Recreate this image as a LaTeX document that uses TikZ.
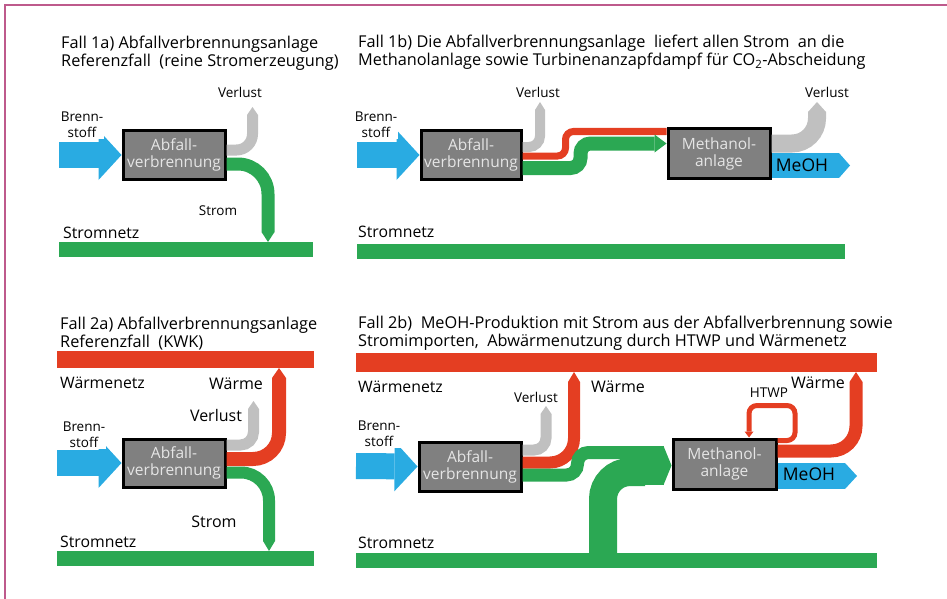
\documentclass[tikz,border=0pt]{standalone}
\usepackage{fontspec}
\setmainfont{Open Sans}
\usetikzlibrary{calc,arrows.meta,positioning}
\definecolor{fluxblue}{RGB}{41,171,226}
\definecolor{fluxgreen}{RGB}{43,168,83}
\definecolor{fluxred}{RGB}{228,62,34}
\definecolor{fluxgray}{RGB}{192,192,192}
\definecolor{plantgray}{RGB}{128,128,128}
\definecolor{framepink}{RGB}{190,90,140}
\tikzset{
  plant/.style={rectangle, draw=black, fill=plantgray, line width=3pt,
                minimum width=102pt, minimum height=49pt, inner sep=0pt,
                text=white!90!black, align=center, font=\fontsize{15.5}{17}\selectfont},
  gridbar/.style={rectangle, fill=fluxgreen, inner sep=0pt, outer sep=0pt, minimum height=15pt},
  heatbar/.style={rectangle, fill=fluxred, inner sep=0pt, outer sep=0pt, minimum height=18pt},
  ttl/.style={anchor=base west, align=left, inner sep=0pt, font=\fontsize{16.3}{18}\selectfont},
  lbl/.style={inner sep=0pt, font=\fontsize{13.5}{16}\selectfont},
  biglbl/.style={inner sep=0pt, font=\fontsize{16}{18}\selectfont},
  netlbl/.style={anchor=west, inner sep=0pt, font=\fontsize{15.8}{18}\selectfont},
  fuellbl/.style={align=center, fill=white, inner sep=1pt, font=\fontsize{13.5}{16}\selectfont},
  meohlbl/.style={inner sep=0pt, font=\fontsize{17.5}{20}\selectfont},
  flowtip/.style={-{Triangle[length=#1, width=0pt 1, line width=0pt]}},
  flowtip/.default=9pt,
  fuelin/.style={fluxblue, line width=26pt, -{Triangle[length=23pt, width=50pt, line width=0pt]}},
  lossband/.style={fluxgray, line width=11pt, rounded corners=13pt, flowtip=8pt},
  gband/.style={fluxgreen, line width=13pt, rounded corners=10pt},
  rband/.style={fluxred, line width=14pt, rounded corners=10pt},
  meohout/.style={fluxblue, line width=25pt, flowtip=11pt},
}
\begin{document}
\begin{tikzpicture}[x=1pt, y=-1pt]
  \useasboundingbox (0,0) rectangle (947,599);
  \coordinate (frameBL) at (5,599);
  \coordinate (frameTL) at (5,5.5);
  \coordinate (frameTR) at (947,5.5);
  \draw[framepink, line width=2pt] (frameBL) -- (frameTL) -- (frameTR);

  % Fall 1a
  \node[ttl] (title1a) at (61,67) {Fall 1a) Abfallverbrennungsanlage\\Referenzfall\ \ (reine Stromerzeugung)};
  \node[plant] (box1a) at (174,155) {Abfall-\\verbrennung};
  \node[gridbar, minimum width=254pt] (grid1a) at (186,249.5) {};
  \coordinate (fuel1a) at (59,155);
  \coordinate (loss1a) at (252.5,107);
  \draw[fuelin] (fuel1a) -- (box1a.west);
  \draw[lossband, rounded corners=16pt] ($(box1a.east)+(0,-5)$) -| (loss1a);
  \draw[gband, rounded corners=30pt, flowtip=10pt] ($(box1a.east)+(0,9)$) -| ($(grid1a.north west)+(209,0)$);
  \node[fuellbl] (fuellbl1a) at (82,125) {Brenn-\\stoff};
  \node[lbl] (losslbl1a) at (240,92) {Verlust};
  \node[lbl] (stromlbl1a) at (218,211) {Strom};
  \node[netlbl] (netlbl1a) at (63,233) {Stromnetz};

  % Fall 1b
  \node[ttl] (title1b) at (358,66) {Fall 1b) Die Abfallverbrennungsanlage\ \ liefert allen Strom\ \ an die\\Methanolanlage sowie Turbinenanzapfdampf für CO\textsubscript{2}-Abscheidung};
  \node[plant, minimum width=100pt, minimum height=48pt] (box1b) at (471,155) {Abfall-\\verbrennung};
  \node[plant] (methanol1b) at (719,153.5) {Methanol-\\anlage};
  \node[gridbar, minimum width=488pt] (grid1b) at (601,251.5) {};
  \coordinate (fuel1b) at (357,155);
  \coordinate (loss1b) at (540,102);
  \coordinate (loss1bm) at (817,102);
  \coordinate (meoh1b) at (850,165.5);
  \draw[fuelin] (fuel1b) -- (box1b.west);
  \draw[lossband, line width=10pt, rounded corners=11pt] ($(box1b.east)+(0,-8)$) -| (loss1b);
  \draw[rband, line width=7pt, rounded corners=8pt] ($(box1b.east)+(0,1)$) -- ++(43,0) |- ($(methanol1b.west)+(0,-22)$);
  \draw[gband, line width=14pt, -{Triangle[length=12pt, width=18pt, line width=0pt]}] ($(box1b.east)+(0,13)$) -- ++(58,0) |- ($(methanol1b.west)+(0,-10)$);
  \draw[lossband, line width=18pt, rounded corners=25pt, flowtip=10pt] ($(methanol1b.east)+(0,-10)$) -| (loss1bm);
  \draw[meohout] ($(methanol1b.east)+(0,12)$) -- (meoh1b);
  \node[fuellbl] (fuellbl1b) at (376,125) {Brenn-\\stoff};
  \node[lbl] (losslbl1b) at (538,92) {Verlust};
  \node[lbl] (losslbl1bm) at (827,92) {Verlust};
  \node[meohlbl] (meohlbl1b) at (802,165) {MeOH};
  \node[netlbl] (netlbl1b) at (358,232) {Stromnetz};

  % Fall 2a
  \node[ttl] (title2a) at (60,347) {Fall 2a) Abfallverbrennungsanlage\\Referenzfall\ \ (KWK)};
  \node[heatbar, minimum width=257pt, minimum height=17pt] (heat2a) at (185.5,359.5) {};
  \node[plant, minimum height=48pt] (box2a) at (174,463) {Abfall-\\verbrennung};
  \node[gridbar, minimum width=257pt] (grid2a) at (185.5,558.5) {};
  \coordinate (fuel2a) at (57,463);
  \coordinate (loss2a) at (253.5,401);
  \draw[fuelin] (fuel2a) -- (box2a.west);
  \draw[lossband, rounded corners=13pt] ($(box2a.east)+(0,-18)$) -| (loss2a);
  \draw[rband, rounded corners=26pt, flowtip=10pt] ($(box2a.east)+(0,-4)$) -| ($(heat2a.south west)+(222,0)$);
  \draw[gband, line width=12pt, rounded corners=28pt, flowtip=10pt] ($(box2a.east)+(0,9.5)$) -| ($(grid2a.north west)+(212,0)$);
  \node[fuellbl] (fuellbl2a) at (84,435) {Brenn-\\stoff};
  \node[netlbl] (heatlbl2a) at (60,383) {Wärmenetz};
  \node[biglbl] (waermelbl2a) at (236,384) {Wärme};
  \node[biglbl] (losslbl2a) at (216,415) {Verlust};
  \node[biglbl] (stromlbl2a) at (214,522) {Strom};
  \node[netlbl] (netlbl2a) at (60,542) {Stromnetz};

  % Fall 2b
  \node[ttl] (title2b) at (358,346) {Fall 2b)\ \ MeOH-Produktion mit Strom aus der Abfallverbrennung sowie\\Stromimporten,\ \ Abwärmenutzung durch HTWP und Wärmenetz};
  \node[heatbar, minimum width=521pt, minimum height=19pt] (heat2b) at (616.5,362.5) {};
  \node[plant] (box2b) at (470,466.5) {Abfall-\\verbrennung};
  \node[plant, minimum width=103pt, minimum height=50pt] (methanol2b) at (724.5,464) {Methanol-\\anlage};
  \node[gridbar, minimum width=521pt] (grid2b) at (616.5,560.5) {};
  \coordinate (fuel2b) at (356,466);
  \coordinate (loss2b) at (546,406);
  \coordinate (merge2b) at (645,465.5);
  \coordinate (htwp2b) at (795,405.5);
  \coordinate (meoh2b) at (857,476);
  \draw[fuelin] (fuel2b) -- (box2b.west);
  \draw[lossband, rounded corners=12pt] ($(box2b.east)+(0,-16.5)$) -| (loss2b);
  \draw[rband, line width=12pt, rounded corners=24pt, flowtip=10pt] ($(box2b.east)+(0,-4)$) -| ($(heat2b.south west)+(218,0)$);
  \draw[gband, line width=28pt, rounded corners=27pt] ($(grid2b.north west)+(247,0)$) |- ($(merge2b)+(0,6.5)$);
  \draw[gband, rounded corners=11pt] ($(box2b.east)+(0,8.5)$) -- ++(55,0) |- ($(merge2b)+(0,-13)$);
  \draw[gband, line width=39pt, flowtip=8pt] (merge2b) -- (methanol2b.west |- merge2b);
  \draw[rband, line width=5pt, rounded corners=8pt, -{Triangle[length=6pt, width=9pt, line width=0pt]}]
    ($(methanol2b.east)+(0,-23.5)$) -| (htwp2b) -| ($(methanol2b.north west)+(77.5,0)$);
  \draw[rband, line width=13pt, rounded corners=25pt, flowtip=10pt] ($(methanol2b.east)+(0,-13)$) -| ($(heat2b.south west)+(500,0)$);
  \draw[meohout, line width=26pt, flowtip=12pt] ($(methanol2b.east)+(0,12)$) -- (meoh2b);
  \node[fuellbl] (fuellbl2b) at (379,434) {Brenn-\\stoff};
  \node[netlbl] (heatlbl2b) at (358,387) {Wärmenetz};
  \node[lbl] (losslbl2b) at (536,397) {Verlust};
  \node[biglbl] (waermelbl2b) at (618,387) {Wärme};
  \node[lbl] (htwplbl2b) at (769,393) {HTWP};
  \node[biglbl] (waermelbl2bm) at (818,383) {Wärme};
  \node[meohlbl] (meohlbl2b) at (809,474) {MeOH};
  \node[netlbl] (netlbl2b) at (358,543) {Stromnetz};
\end{tikzpicture}
\end{document}
